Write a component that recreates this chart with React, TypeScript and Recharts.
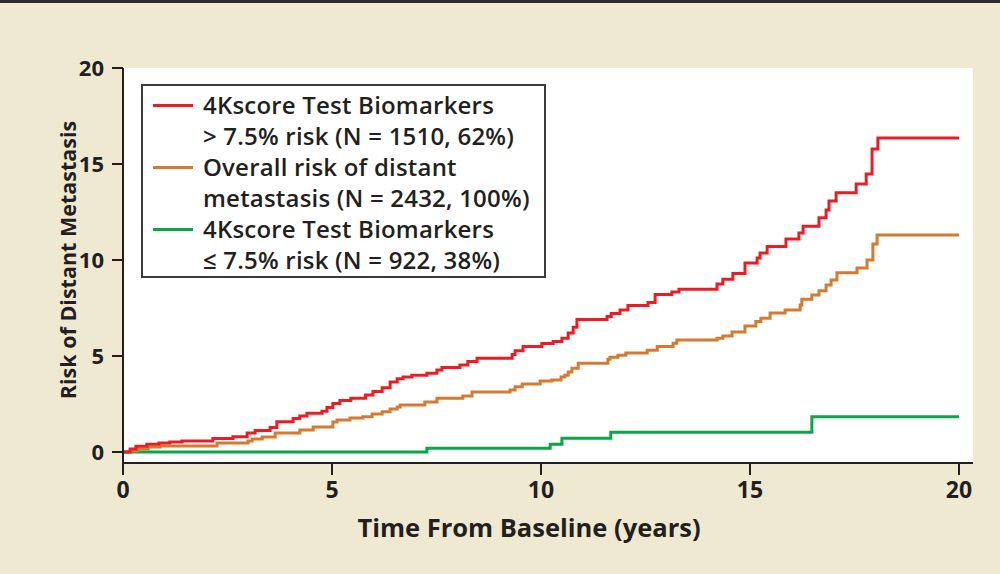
import { LineChart, Line, XAxis, YAxis, CartesianGrid, Legend } from 'recharts';

// Kaplan-Meier style cumulative risk (%)
const highTimes = [0, 0.17, 0.31, 0.57, 0.86, 1.12, 1.41, 2.15, 2.63, 2.97, 3.16, 3.52, 3.68, 4.07, 4.23, 4.4, 4.76, 4.88, 5.02, 5.19, 5.45, 5.8, 5.98, 6.2, 6.39, 6.56, 6.7, 6.91, 7.27, 7.51, 7.63, 8.06, 8.25, 8.47, 9.31, 9.38, 9.57, 10.02, 10.29, 10.5, 10.65, 10.77, 10.86, 11.58, 11.68, 11.89, 12.08, 12.56, 12.73, 13.13, 13.3, 14.21, 14.35, 14.59, 14.88, 15.17, 15.24, 15.41, 15.86, 16.17, 16.27, 16.65, 16.82, 16.89, 17.06, 17.54, 17.78, 17.92, 18.06, 20];
const highRisk = [0, 0.15, 0.3, 0.4, 0.47, 0.52, 0.57, 0.7, 0.8, 0.99, 1.12, 1.28, 1.58, 1.74, 1.88, 2.02, 2.12, 2.32, 2.52, 2.68, 2.8, 2.97, 3.15, 3.35, 3.65, 3.82, 3.9, 4.0, 4.1, 4.27, 4.4, 4.53, 4.72, 4.88, 5.08, 5.27, 5.5, 5.65, 5.75, 5.92, 6.2, 6.5, 6.9, 7.06, 7.22, 7.4, 7.63, 7.78, 8.2, 8.33, 8.48, 8.75, 9.0, 9.3, 9.85, 10.1, 10.36, 10.7, 11.1, 11.4, 11.76, 12.2, 12.6, 13.07, 13.5, 13.96, 14.48, 15.78, 16.35, 16.35];

const overallTimes = [0, 0.17, 0.36, 0.6, 0.89, 2.25, 2.99, 3.09, 3.33, 3.64, 4.23, 4.55, 5.02, 5.12, 5.43, 5.74, 5.96, 6.2, 6.39, 6.56, 6.63, 7.22, 7.51, 8.13, 8.35, 9.26, 9.38, 9.55, 9.98, 10.26, 10.48, 10.57, 10.65, 10.74, 10.89, 11.6, 11.65, 11.84, 12.03, 12.54, 12.78, 13.16, 13.25, 14.21, 14.35, 14.57, 14.88, 15.14, 15.26, 15.48, 15.84, 16.2, 16.24, 16.48, 16.65, 16.82, 16.94, 17.08, 17.56, 17.8, 17.94, 18.04, 20];
const overallRisk = [0, 0.07, 0.16, 0.26, 0.31, 0.47, 0.57, 0.68, 0.78, 0.99, 1.15, 1.3, 1.56, 1.67, 1.77, 1.83, 1.98, 2.1, 2.24, 2.34, 2.45, 2.6, 2.8, 2.92, 3.13, 3.23, 3.4, 3.54, 3.7, 3.75, 3.9, 4.0, 4.17, 4.36, 4.62, 4.83, 4.93, 5.04, 5.15, 5.3, 5.5, 5.66, 5.83, 5.92, 6.04, 6.25, 6.56, 6.8, 6.96, 7.24, 7.4, 7.66, 7.95, 8.18, 8.4, 8.7, 8.96, 9.33, 9.58, 10.0, 10.83, 11.3, 11.3];

const lowTimes = [0, 7.27, 10.22, 10.5, 11.67, 16.48, 20];
const lowRisk = [0, 0.2, 0.4, 0.72, 1.03, 1.83, 1.83];

const xTicks = [0, 5, 10, 15, 20];
const yTicks = [0, 5, 10, 15, 20];

const toPoints = (times: number[], risks: number[]) => times.map((t, i) => ({ t, v: risks[i] }));

const series = [
    { key: 'high', color: '#ED1C24', label: ['4Kscore Test Biomarkers', '> 7.5% risk (N = 1510, 62%)'], data: toPoints(highTimes, highRisk) },
    { key: 'overall', color: '#D47B30', label: ['Overall risk of distant', 'metastasis (N = 2432, 100%)'], data: toPoints(overallTimes, overallRisk) },
    { key: 'low', color: '#0AA64A', label: ['4Kscore Test Biomarkers', '≤ 7.5% risk (N = 922, 38%)'], data: toPoints(lowTimes, lowRisk) },
];

const AXIS = '#231F20';
const FONT = "'Open Sans', sans-serif";

function LegendBox() {
    return (
        <div style={{
            boxSizing: 'border-box', width: 405, height: 194,
            border: '2px solid #3a3a3a', background: '#fff', padding: '3px 0 0 10px',
            fontFamily: FONT, fontWeight: 600, fontSize: 24, lineHeight: '31px', color: '#231F20',
            letterSpacing: 0.2, whiteSpace: 'nowrap',
        }}>
            {series.map((s) => (
                <div key={s.key} style={{ display: 'flex' }}>
                    <div style={{ width: 40, height: 3, background: s.color, marginTop: 15, marginRight: 10, flexShrink: 0 }} />
                    <div>
                        <div>{s.label[0]}</div>
                        <div>{s.label[1]}</div>
                    </div>
                </div>
            ))}
        </div>
    );
}

export default function App() {
    return (
        <div style={{ position: 'fixed', left: 0, top: 0, width: 1000, height: 574, background: '#F0E9D2' }}>
            <div style={{ position: 'absolute', left: 0, top: 0, width: 1000, height: 3, background: '#2b2b2b' }} />
            <LineChart width={1000} height={574} margin={{ top: 68, right: 27, left: 0, bottom: 0 }}>
                <CartesianGrid fill="#fff" stroke="none" horizontal={false} vertical={false} />
                <XAxis
                    type="number" dataKey="t" domain={[0, 20]} ticks={xTicks} height={111}
                    padding={{ left: 0, right: 14 }}
                    stroke={AXIS} strokeWidth={2} tickSize={12} tickMargin={7}
                    tick={{ fill: AXIS, fontSize: 23, fontFamily: FONT, fontWeight: 700 }}
                    label={{
                        content: () => (
                            <text x={529} y={537} textAnchor="middle" fill={AXIS} fontSize={25.5} fontFamily={FONT} fontWeight={700}>
                                Time From Baseline (years)
                            </text>
                        ),
                    }}
                />
                <YAxis
                    type="number" domain={[0, 20]} ticks={yTicks} width={123}
                    padding={{ top: 0, bottom: 11 }}
                    stroke={AXIS} strokeWidth={2} tickSize={11} tickMargin={8}
                    tick={{ fill: AXIS, fontSize: 22, fontFamily: FONT, fontWeight: 700 }}
                    label={{
                        content: () => (
                            <text x={67} y={260} transform="rotate(-90 67 260)" textAnchor="middle" dominantBaseline="central"
                                fill={AXIS} fontSize={21.5} fontFamily={FONT} fontWeight={700}>
                                Risk of Distant Metastasis
                            </text>
                        ),
                    }}
                />
                <Legend
                    layout="horizontal" verticalAlign="middle" align="center"
                    wrapperStyle={{ left: 141, top: 84, width: 'auto' }}
                    content={() => <LegendBox />}
                />
                {[...series].reverse().map((s) => (
                    <Line
                        key={s.key} data={s.data} dataKey="v" type="stepAfter" stroke={s.color}
                        strokeWidth={3} dot={false} isAnimationActive={false}
                    />
                ))}
            </LineChart>
        </div>
    );
}
